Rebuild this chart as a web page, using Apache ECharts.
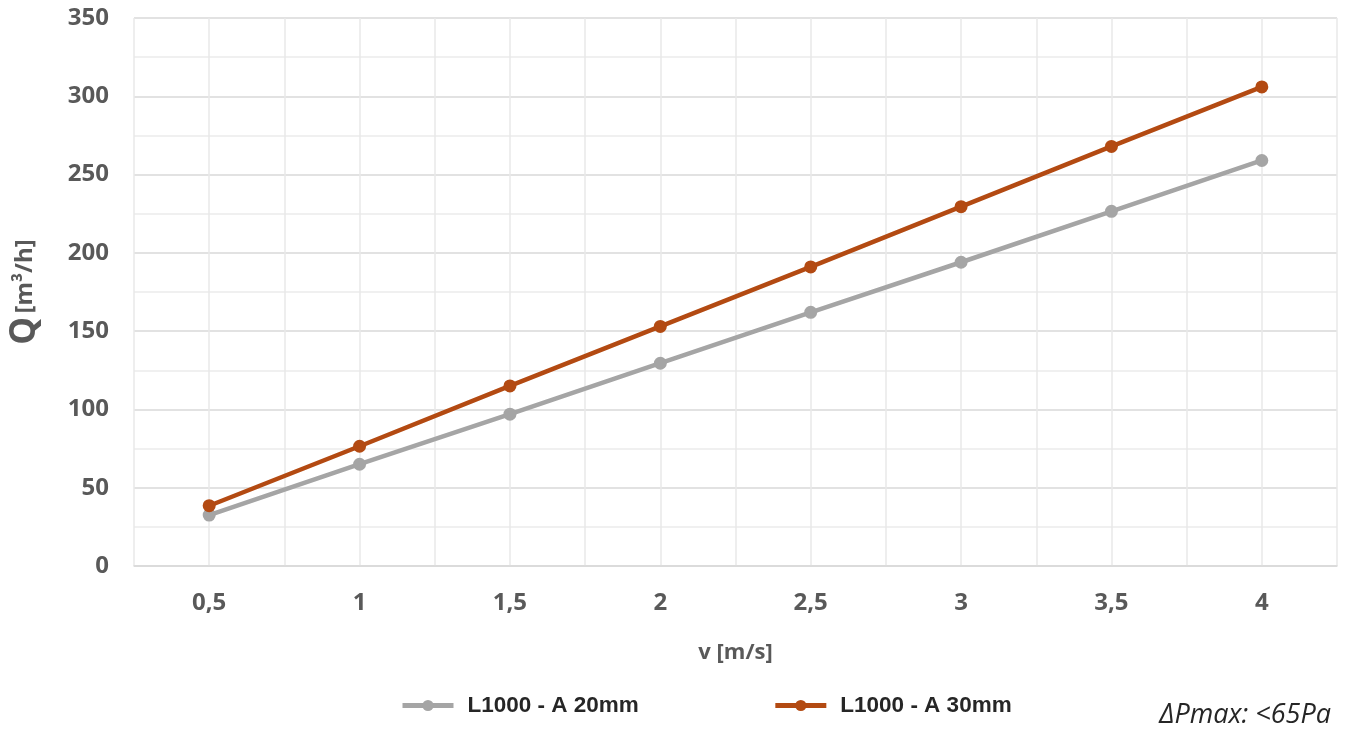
<!DOCTYPE html>
<html>
<head>
<meta charset="utf-8">
<script src="https://cdn.jsdelivr.net/npm/echarts@6/dist/echarts.min.js"></script>
<style>html,body{margin:0;padding:0;background:#fff}#c{width:1349px;height:740px}</style>
</head>
<body>
<div id="c"></div>
<script>
// Data
const velocities = [0.5, 1, 1.5, 2, 2.5, 3, 3.5, 4];
const seriesNames = ['L1000 - A 20mm', 'L1000 - A 30mm'];
const flowA20 = [32.5, 65, 97, 129.5, 162, 194, 226.5, 259];
const flowA30 = [38.5, 76.5, 115, 153, 191, 229.5, 268, 306];
const yTicks = [0, 50, 100, 150, 200, 250, 300, 350];
const xAxisTitle = 'v [m/s]';
const yAxisTitleQ = 'Q';
const yAxisTitleUnit = '[m³/h]';
const noteText = 'ΔPmax: <65Pa';

const chart = echarts.init(document.getElementById('c'), null, {renderer: 'canvas'});
const pairs = arr => velocities.map((v, i) => [v, arr[i]]);
const fmtX = v => {
  const r = Math.round(v * 100) / 100;
  if (velocities.indexOf(r) < 0) return '';
  return String(r).replace('.', ',');
};
const labelFont = {fontFamily: 'Open Sans', fontWeight: 'bold', fontSize: 24, color: '#595959'};
const grey = '#a5a5a5';
const rust = '#b34a12';

chart.setOption({
  animation: false,
  backgroundColor: '#ffffff',
  grid: {left: 133, right: 12, top: 18, bottom: 174, containLabel: false},
  title: {
    text: noteText, right: 13, bottom: 6,
    textStyle: {fontFamily: 'Open Sans', fontStyle: 'italic', fontWeight: 'normal', fontSize: 27, color: '#262626'}
  },
  legend: {
    data: seriesNames, left: 395, top: 689, itemWidth: 51, itemHeight: 14, itemGap: 134,
    lineStyle: {width: 5},
    textStyle: {fontFamily: 'Liberation Sans', fontWeight: 'bold', fontSize: 22.5, color: '#262626', padding: [0, 0, 0, 9]}
  },
  xAxis: {
    type: 'value', min: 0.25, max: 4.25, interval: 0.25,
    name: xAxisTitle, nameLocation: 'middle', nameGap: 76,
    nameTextStyle: {fontFamily: 'Open Sans', fontWeight: 'bold', fontSize: 22, color: '#595959'},
    axisLine: {show: true, lineStyle: {color: '#d9d9d9', width: 1.5}},
    axisTick: {show: false},
    axisLabel: Object.assign({margin: 25, formatter: fmtX, showMinLabel: true, showMaxLabel: true}, labelFont),
    splitLine: {show: true, lineStyle: {color: '#e9e9e9', width: 1.5}}
  },
  yAxis: {
    type: 'value', min: yTicks[0], max: yTicks[yTicks.length - 1], interval: 50,
    name: '{q|' + yAxisTitleQ + '} {u|' + yAxisTitleUnit + '}', nameLocation: 'middle', nameGap: 91,
    nameTextStyle: {
      rich: {
        q: {fontFamily: 'Open Sans', fontWeight: 'bold', fontSize: 35, color: '#595959'},
        u: {fontFamily: 'Open Sans', fontWeight: 'bold', fontSize: 24, color: '#595959'}
      }
    },
    axisLine: {show: false},
    axisTick: {show: false},
    axisLabel: Object.assign({margin: 25}, labelFont),
    splitLine: {show: true, lineStyle: {color: '#d9d9d9', width: 1.5}},
    minorTick: {show: false, splitNumber: 2},
    minorSplitLine: {show: true, lineStyle: {color: '#ececec', width: 1.5}}
  },
  series: [
    {
      name: seriesNames[0], type: 'line', data: pairs(flowA20),
      symbol: 'circle', symbolSize: 13,
      lineStyle: {color: grey, width: 4.5},
      itemStyle: {color: grey}
    },
    {
      name: seriesNames[1], type: 'line', data: pairs(flowA30),
      symbol: 'circle', symbolSize: 13,
      lineStyle: {color: rust, width: 4.5},
      itemStyle: {color: rust}
    }
  ]
});
</script>
</body>
</html>
